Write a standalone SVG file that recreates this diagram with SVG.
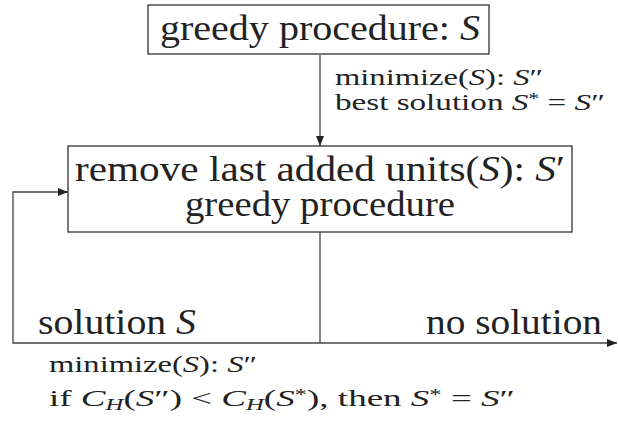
<svg xmlns="http://www.w3.org/2000/svg" width="618" height="425" viewBox="0 0 618 425">
<defs>
<style>
text{fill:#222}
.big{font-size:35px}
.sm{font-size:24px}
.i{font-style:italic}
.box{fill:#fff;stroke:#333;stroke-width:1.3}
.ln{fill:none;stroke:#444;stroke-width:1.3}
</style>
<marker id="ah" viewBox="0 0 10 10" refX="10" refY="5" markerWidth="10" markerHeight="10" markerUnits="userSpaceOnUse" orient="auto">
<path d="M0,1 L10,5 L0,9 Z" fill="#222"/>
</marker>
</defs>
<g id="connectors">
<line class="ln" x1="320" y1="55" x2="320" y2="146" marker-end="url(#ah)"/>
<line class="ln" x1="320" y1="232" x2="320" y2="343"/>
<polyline class="ln" points="320,343 13,343 13,192 68,192" marker-end="url(#ah)"/>
<line class="ln" x1="320" y1="343" x2="617" y2="343" marker-end="url(#ah)"/>
</g>
<g font-family="Liberation Serif, serif">
<g id="n1">
<rect class="box" x="148" y="5" width="341" height="49"/>
<text font-family="Liberation Serif, serif" class="big" x="160" y="40" textLength="320" lengthAdjust="spacingAndGlyphs">greedy procedure: <tspan class="i">S</tspan></text>
</g>
<g id="lbl1">
<text font-family="Liberation Serif, serif" class="sm" x="335" y="85" textLength="208" lengthAdjust="spacingAndGlyphs">minimize(<tspan class="i">S</tspan>): <tspan class="i">S</tspan>″</text>
<text font-family="Liberation Serif, serif" class="sm" x="335" y="110" textLength="270" lengthAdjust="spacingAndGlyphs">best solution <tspan class="i">S</tspan><tspan font-size="16" baseline-shift="40%">*</tspan> = <tspan class="i">S</tspan>″</text>
</g>
<g id="n2">
<rect class="box" x="68" y="146" width="504" height="86"/>
<text font-family="Liberation Serif, serif" class="big" x="75" y="181" textLength="490" lengthAdjust="spacingAndGlyphs">remove last added units(<tspan class="i">S</tspan>): <tspan class="i">S</tspan>′</text>
<text font-family="Liberation Serif, serif" class="big" x="185" y="216" textLength="270" lengthAdjust="spacingAndGlyphs">greedy procedure</text>
</g>
<g id="lbl2">
<text font-family="Liberation Serif, serif" class="big" x="38" y="334" textLength="158" lengthAdjust="spacingAndGlyphs">solution <tspan class="i">S</tspan></text>
<text font-family="Liberation Serif, serif" class="big" x="426" y="334" textLength="176" lengthAdjust="spacingAndGlyphs">no solution</text>
<text font-family="Liberation Serif, serif" class="sm" x="49" y="372" textLength="208" lengthAdjust="spacingAndGlyphs">minimize(<tspan class="i">S</tspan>): <tspan class="i">S</tspan>″</text>
<text font-family="Liberation Serif, serif" class="sm" x="49" y="406" textLength="466" lengthAdjust="spacingAndGlyphs">if <tspan class="i">C</tspan><tspan font-size="16" class="i" baseline-shift="-25%">H</tspan>(<tspan class="i">S</tspan>″) &lt; <tspan class="i">C</tspan><tspan font-size="16" class="i" baseline-shift="-25%">H</tspan>(<tspan class="i">S</tspan><tspan font-size="16" baseline-shift="40%">*</tspan>), then <tspan class="i">S</tspan><tspan font-size="16" baseline-shift="40%">*</tspan> = <tspan class="i">S</tspan>″</text>
</g>
</g>
</svg>
